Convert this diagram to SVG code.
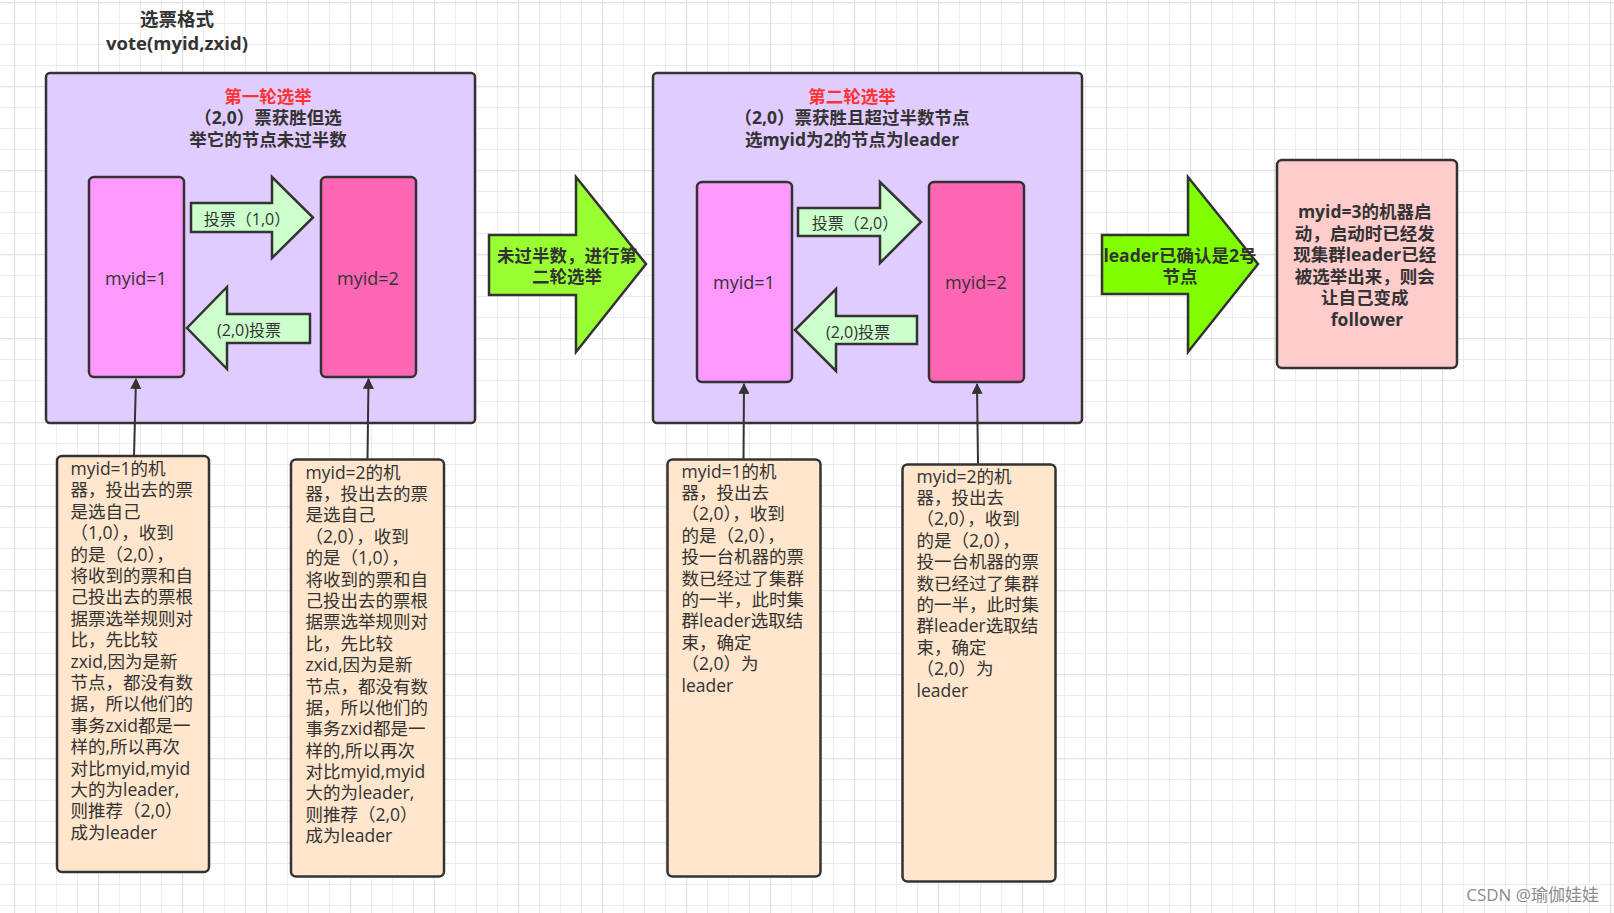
<svg xmlns="http://www.w3.org/2000/svg" width="1614" height="913" viewBox="0 0 1614 913">
  <defs>
    <pattern id="grid" patternUnits="userSpaceOnUse" x="14" y="2" width="84" height="84">
      <path d="M0 0.5H84M0 21.5H84M0 42.5H84M0 63.5H84M0.5 0V84M21.5 0V84M42.5 0V84M63.5 0V84" fill="none" stroke="#ececec" stroke-width="1"/>
      <path d="M0 0.5H84M0.5 0V84" fill="none" stroke="#e2e2e2" stroke-width="1.5"/>
    </pattern>
    <marker id="arr" viewBox="0 0 10 10" refX="9" refY="5" markerWidth="5.5" markerHeight="5.5" orient="auto" markerUnits="strokeWidth">
      <path d="M0 0L10 5L0 10Z" fill="#333333"/>
    </marker>
    <style>
      text { font-family: "Open Sans", "Noto Sans CJK SC", "Liberation Sans", sans-serif; fill: #333333; }
      .bold { font-weight: bold; font-size: 17.5px; }
      .ttl { font-size: 18.5px; }
      .red { fill: #FF3333; }
      .mid { text-anchor: middle; }
      .big { fill: #E1CCFF; stroke: #333333; stroke-width: 2.5; }
      .n1 { fill: #FF99FF; stroke: #333333; stroke-width: 2.5; }
      .n2 { fill: #FF66B3; stroke: #333333; stroke-width: 2.5; }
      .sa { fill: #CCFFCC; stroke: #333333; stroke-width: 2.5; stroke-linejoin: miter; }
      .ga { fill: #99FF33; stroke: #333333; stroke-width: 2.5; }
      .gb { fill: #80FF00; stroke: #333333; stroke-width: 2.5; }
      .note { fill: #FFE6CC; stroke: #333333; stroke-width: 2.5; }
      .pink { fill: #FFCCCC; stroke: #333333; stroke-width: 2.5; }
      .lab { font-size: 18px; }
      .alab { font-size: 16px; }
      .nt { font-size: 17.5px; }
      .conn { stroke: #333333; stroke-width: 2; fill: none; marker-end: url(#arr); }
    </style>
  </defs>

  <rect x="0" y="0" width="1614" height="913" fill="#ffffff"/>
  <rect x="0" y="0" width="1614" height="913" fill="url(#grid)"/>

  <g id="title">
    <text class="bold ttl mid" x="177" y="26">选票格式</text>
    <text class="bold ttl mid" x="177" y="49.5">vote(myid,zxid)</text>
  </g>

  <g id="round1">
    <rect class="big" x="46" y="73" width="429" height="350" rx="4"/>
    <text class="bold mid red" x="268" y="102.5">第一轮选举</text>
    <text class="bold mid" x="268" y="123.5">（2,0）票获胜但选</text>
    <text class="bold mid" x="268" y="145.5">举它的节点未过半数</text>
  </g>
  <g id="r1-node1">
    <rect class="n1" x="89" y="177" width="95" height="200" rx="5"/>
    <text class="lab mid" x="136" y="278" dominant-baseline="central">myid=1</text>
  </g>
  <g id="r1-node2">
    <rect class="n2" x="321" y="177" width="95" height="200" rx="5"/>
    <text class="lab mid" x="368" y="278" dominant-baseline="central">myid=2</text>
  </g>
  <g id="r1-vote12">
    <polygon class="sa" points="191,203 272,203 272,177 313,217.5 272,258 272,232 191,232"/>
    <text class="alab mid" x="247" y="219" dominant-baseline="central">投票（1,0）</text>
  </g>
  <g id="r1-vote21">
    <polygon class="sa" points="310,314 227,314 227,287 187,328 227,369 227,343 310,343"/>
    <text class="alab mid" x="249" y="330" dominant-baseline="central">(2,0)投票</text>
  </g>

  <g id="arrowA">
    <polygon class="ga" points="489,235 576,235 576,177 646,264 576,352 576,295 489,295"/>
    <text class="bold mid" x="567" y="262">未过半数，进行第</text>
    <text class="bold mid" x="567" y="283">二轮选举</text>
  </g>

  <g id="round2">
    <rect class="big" x="653" y="73" width="429" height="350" rx="4"/>
    <text class="bold mid red" x="852" y="102.5">第二轮选举</text>
    <text class="bold mid" x="852" y="123.5">（2,0）票获胜且超过半数节点</text>
    <text class="bold mid" x="852" y="146">选myid为2的节点为leader</text>
  </g>
  <g id="r2-node1">
    <rect class="n1" x="697" y="182" width="95" height="200" rx="5"/>
    <text class="lab mid" x="744" y="282" dominant-baseline="central">myid=1</text>
  </g>
  <g id="r2-node2">
    <rect class="n2" x="929" y="182" width="95" height="200" rx="5"/>
    <text class="lab mid" x="976" y="282" dominant-baseline="central">myid=2</text>
  </g>
  <g id="r2-vote12">
    <polygon class="sa" points="798,208 880,208 880,182 921,222 880,263 880,236 798,236"/>
    <text class="alab mid" x="855" y="223" dominant-baseline="central">投票（2,0）</text>
  </g>
  <g id="r2-vote21">
    <polygon class="sa" points="917,316 836,316 836,289 795,330 836,371 836,344 917,344"/>
    <text class="alab mid" x="858" y="332" dominant-baseline="central">(2,0)投票</text>
  </g>

  <g id="arrowB">
    <polygon class="gb" points="1102,235 1188,235 1188,177 1258,264 1188,352 1188,294 1102,294"/>
    <text class="bold mid" x="1180" y="262">leader已确认是2号</text>
    <text class="bold mid" x="1180" y="283">节点</text>
  </g>

  <g id="follower">
    <rect class="pink" x="1277" y="160" width="180" height="208" rx="5"/>
    <text class="bold mid" x="1367" y="218">
      <tspan x="1367">myid=3的机器启</tspan>
      <tspan x="1367" dy="21.5">动，启动时已经发</tspan>
      <tspan x="1367" dy="21.5">现集群leader已经</tspan>
      <tspan x="1367" dy="21.5">被选举出来，则会</tspan>
      <tspan x="1367" dy="21.5">让自己变成</tspan>
      <tspan x="1367" dy="21.5">follower</tspan>
    </text>
  </g>

  <g id="note1">
    <rect class="note" x="57" y="456" width="152" height="416" rx="5"/>
    <text class="nt" x="70.5" y="475">
      <tspan x="70.5">myid=1的机</tspan>
      <tspan x="70.5" dy="21.4">器，投出去的票</tspan>
      <tspan x="70.5" dy="21.4">是选自己</tspan>
      <tspan x="70.5" dy="21.4">（1,0），收到</tspan>
      <tspan x="70.5" dy="21.4">的是（2,0），</tspan>
      <tspan x="70.5" dy="21.4">将收到的票和自</tspan>
      <tspan x="70.5" dy="21.4">己投出去的票根</tspan>
      <tspan x="70.5" dy="21.4">据票选举规则对</tspan>
      <tspan x="70.5" dy="21.4">比，先比较</tspan>
      <tspan x="70.5" dy="21.4">zxid,因为是新</tspan>
      <tspan x="70.5" dy="21.4">节点，都没有数</tspan>
      <tspan x="70.5" dy="21.4">据，所以他们的</tspan>
      <tspan x="70.5" dy="21.4">事务zxid都是一</tspan>
      <tspan x="70.5" dy="21.4">样的,所以再次</tspan>
      <tspan x="70.5" dy="21.4">对比myid,myid</tspan>
      <tspan x="70.5" dy="21.4">大的为leader,</tspan>
      <tspan x="70.5" dy="21.4">则推荐（2,0）</tspan>
      <tspan x="70.5" dy="21.4">成为leader</tspan>
    </text>
  </g>

  <g id="note2">
    <rect class="note" x="291" y="459.5" width="153" height="417" rx="5"/>
    <text class="nt" x="305.5" y="478.5">
      <tspan x="305.5">myid=2的机</tspan>
      <tspan x="305.5" dy="21.4">器，投出去的票</tspan>
      <tspan x="305.5" dy="21.4">是选自己</tspan>
      <tspan x="305.5" dy="21.4">（2,0），收到</tspan>
      <tspan x="305.5" dy="21.4">的是（1,0），</tspan>
      <tspan x="305.5" dy="21.4">将收到的票和自</tspan>
      <tspan x="305.5" dy="21.4">己投出去的票根</tspan>
      <tspan x="305.5" dy="21.4">据票选举规则对</tspan>
      <tspan x="305.5" dy="21.4">比，先比较</tspan>
      <tspan x="305.5" dy="21.4">zxid,因为是新</tspan>
      <tspan x="305.5" dy="21.4">节点，都没有数</tspan>
      <tspan x="305.5" dy="21.4">据，所以他们的</tspan>
      <tspan x="305.5" dy="21.4">事务zxid都是一</tspan>
      <tspan x="305.5" dy="21.4">样的,所以再次</tspan>
      <tspan x="305.5" dy="21.4">对比myid,myid</tspan>
      <tspan x="305.5" dy="21.4">大的为leader,</tspan>
      <tspan x="305.5" dy="21.4">则推荐（2,0）</tspan>
      <tspan x="305.5" dy="21.4">成为leader</tspan>
    </text>
  </g>

  <g id="note3">
    <rect class="note" x="667.5" y="459.5" width="153" height="417" rx="5"/>
    <text class="nt" x="681.5" y="477.5">
      <tspan x="681.5">myid=1的机</tspan>
      <tspan x="681.5" dy="21.4">器，投出去</tspan>
      <tspan x="681.5" dy="21.4">（2,0），收到</tspan>
      <tspan x="681.5" dy="21.4">的是（2,0），</tspan>
      <tspan x="681.5" dy="21.4">投一台机器的票</tspan>
      <tspan x="681.5" dy="21.4">数已经过了集群</tspan>
      <tspan x="681.5" dy="21.4">的一半，此时集</tspan>
      <tspan x="681.5" dy="21.4">群leader选取结</tspan>
      <tspan x="681.5" dy="21.4">束，确定</tspan>
      <tspan x="681.5" dy="21.4">（2,0）为</tspan>
      <tspan x="681.5" dy="21.4">leader</tspan>
    </text>
  </g>

  <g id="note4">
    <rect class="note" x="902.5" y="464.5" width="153" height="417" rx="5"/>
    <text class="nt" x="916.5" y="482.5">
      <tspan x="916.5">myid=2的机</tspan>
      <tspan x="916.5" dy="21.4">器，投出去</tspan>
      <tspan x="916.5" dy="21.4">（2,0），收到</tspan>
      <tspan x="916.5" dy="21.4">的是（2,0），</tspan>
      <tspan x="916.5" dy="21.4">投一台机器的票</tspan>
      <tspan x="916.5" dy="21.4">数已经过了集群</tspan>
      <tspan x="916.5" dy="21.4">的一半，此时集</tspan>
      <tspan x="916.5" dy="21.4">群leader选取结</tspan>
      <tspan x="916.5" dy="21.4">束，确定</tspan>
      <tspan x="916.5" dy="21.4">（2,0）为</tspan>
      <tspan x="916.5" dy="21.4">leader</tspan>
    </text>
  </g>

  <g id="connectors">
    <line class="conn" x1="134" y1="456" x2="136" y2="379"/>
    <line class="conn" x1="367.5" y1="459" x2="368.5" y2="379"/>
    <line class="conn" x1="743.5" y1="459" x2="744" y2="384"/>
    <line class="conn" x1="978" y1="464" x2="977" y2="384"/>
  </g>

  <text x="1599" y="901" font-size="17" style="text-anchor:end;fill:#8c8c8c;">CSDN @瑜伽娃娃</text>
</svg>
